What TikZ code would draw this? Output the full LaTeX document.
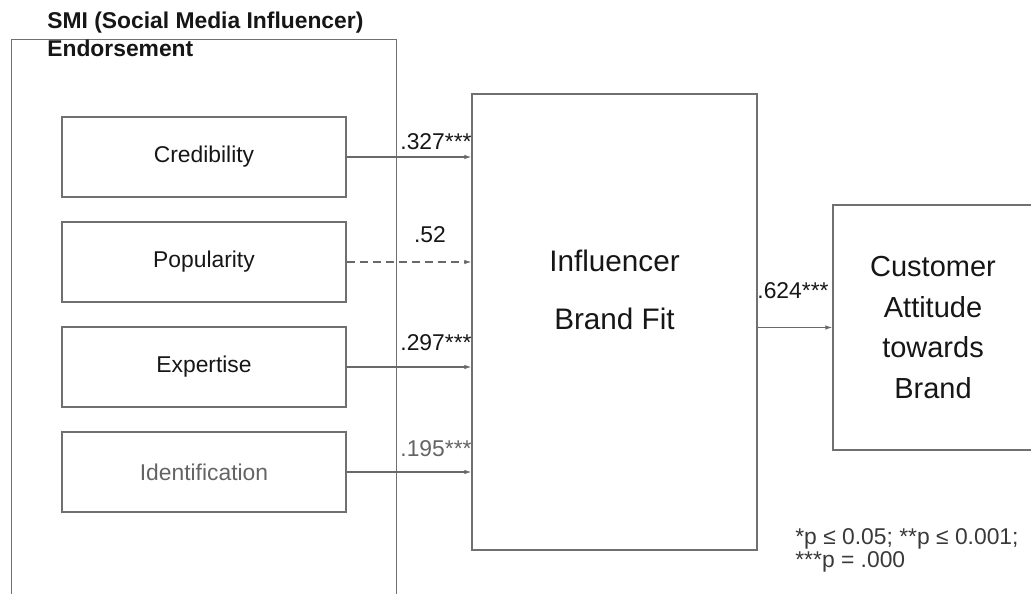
\documentclass[tikz,border=0pt]{standalone}
\usepackage{fontspec}
\setmainfont{Liberation Sans}
\usepackage{tikz}
\usetikzlibrary{arrows.meta,positioning}
\definecolor{framegray}{RGB}{112,112,112}
\definecolor{linkgray}{RGB}{105,105,105}
\definecolor{inkdark}{RGB}{22,22,22}
\definecolor{inkgray}{RGB}{100,100,100}

\begin{document}
\begin{tikzpicture}[x=0.02cm,y=-0.02cm,>={Latex[length=4pt,width=2.6pt]},
  font=\fontsize{13pt}{15.9pt}\selectfont,text=inkdark,
  box/.style={draw=framegray,line width=.8pt,inner sep=0pt,minimum width=5.68cm,minimum height=1.6cm},
  link/.style={->,draw=linkgray,line width=.6pt},
  weight/.style={inner sep=0pt}]
\useasboundingbox (0,0) rectangle (1031,594);
% endorsement frame, runs off the bottom edge
\node[box,anchor=north west,minimum width=7.7cm,minimum height=11.62cm] (smi) at (11,39) {};
\node[anchor=north west,align=left,inner sep=0pt,font=\bfseries\fontsize{13pt}{15.9pt}\selectfont] (smititle) at (47,12) {SMI (Social Media Influencer)\\Endorsement};
\foreach \y/\n/\t/\c in {157/cred/Credibility/inkdark,262/pop/Popularity/inkdark,367/exp/Expertise/inkdark,472/ident/Identification/inkgray}{
  \node[box,text=\c] (\n) at (204,\y) {\t};}
% mediator and outcome
\node[box,minimum width=5.7cm,minimum height=9.12cm] (fit) at (614.5,322) {};
\node[align=center,font=\fontsize{16.9pt}{33.4pt}\selectfont] (fittext) at (614.5,290) {Influencer\\Brand Fit};
\node[box,minimum width=4cm,minimum height=4.9cm,align=center,font=\fontsize{16.5pt}{23pt}\selectfont] (cust) at (933,327.5) {Customer\\Attitude\\towards\\Brand};
\draw[link] (cred) -- (cred -| fit.west);
\draw[link,dash pattern=on 4.6pt off 2.8pt] (pop) -- (pop -| fit.west);
\draw[link] (exp) -- (exp -| fit.west);
\draw[link] (ident) -- (ident -| fit.west);
\draw[link] (cust -| fit.east) -- (cust);
% path coefficients
\node[weight] (wcred) at (436,142) {.327***};
\node[weight] (wpop) at (430,235) {.52};
\node[weight] (wexp) at (436,343) {.297***};
\node[weight,text=inkgray] (wident) at (436,449) {.195***};
\node[weight] (wcust) at (793,291) {.624***};
\node[anchor=north west,align=left,inner sep=0pt,text=inkdark!85,font=\fontsize{13pt}{13pt}\selectfont] (signif) at (795,528) {*p ≤ 0.05; **p ≤ 0.001;\\***p = .000};
\end{tikzpicture}
\end{document}
